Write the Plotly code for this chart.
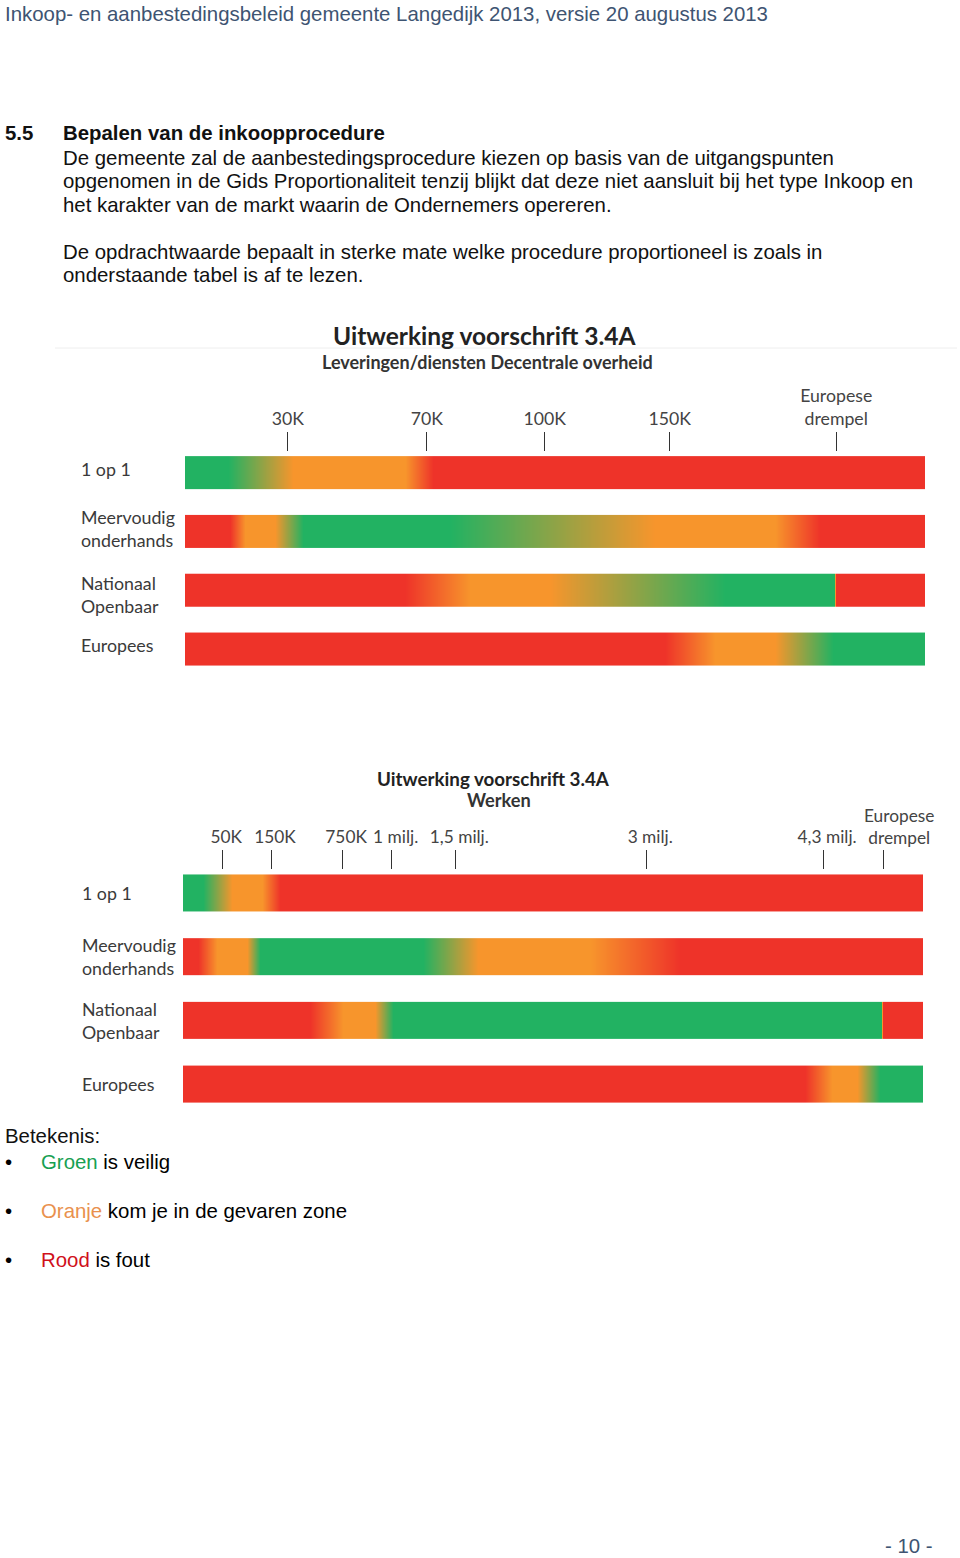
import plotly.graph_objects as go

W, H = 960, 1558

# ---------------- text content ----------------
header = "Inkoop- en aanbestedingsbeleid gemeente Langedijk 2013, versie 20 augustus 2013"
section_no = "5.5"
section_title = "Bepalen van de inkoopprocedure"
para1 = [
    "De gemeente zal de aanbestedingsprocedure kiezen op basis van de uitgangspunten",
    "opgenomen in de Gids Proportionaliteit tenzij blijkt dat deze niet aansluit bij het type Inkoop en",
    "het karakter van de markt waarin de Ondernemers opereren.",
]
para2 = [
    "De opdrachtwaarde bepaalt in sterke mate welke procedure proportioneel is zoals in",
    "onderstaande tabel is af te lezen.",
]
legend_title = "Betekenis:"
legend_words = ["Groen", "Oranje", "Rood"]
legend_rest = ["is veilig", "kom je in de gevaren zone", "is fout"]
page_no = "- 10 -"

procedures = ["1 op 1", "Meervoudig<br>onderhands", "Nationaal<br>Openbaar", "Europees"]

# ---------------- chart 1: Leveringen/diensten ----------------
c1_title = "Uitwerking voorschrift 3.4A"
c1_sub = "Leveringen/diensten Decentrale overheid"
c1_tick_pos = [13.9, 32.7, 48.6, 65.5, 88.0]
c1_tick_text = ["30K", "70K", "100K", "150K", "Europese<br>drempel"]
# colour stops along each bar (0-100 = bar length); R=rood, O=oranje, G=groen
c1_pos = [
    [0, 5.8, 14.6, 29.7, 33.5, 100],
    [0, 6.1, 8.1, 12.2, 15.9, 35.8, 63.5, 79.7, 85.8, 100],
    [0, 29.7, 38.5, 49.3, 73.0, 87.7, 88.0, 100],
    [0, 64.9, 71.6, 79.7, 87.6, 100],
]
c1_state = [
    ["G", "G", "O", "O", "R", "R"],
    ["R", "R", "O", "O", "G", "G", "O", "O", "R", "R"],
    ["R", "R", "O", "O", "G", "G", "R", "R"],
    ["R", "R", "O", "O", "G", "G"],
]

# ---------------- chart 2: Werken ----------------
c2_title = "Uitwerking voorschrift 3.4A"
c2_sub = "Werken"
c2_tick_pos = [5.3, 11.9, 21.5, 28.2, 36.8, 62.6, 86.5, 94.7]
c2_tick_text = ["50K", "150K", "750K", "1 milj.", "1,5 milj.", "3 milj.", "4,3 milj.",
                "Europese<br>drempel"]
c2_pos = [
    [0, 2.7, 6.6, 10.7, 13.1, 100],
    [0, 2.0, 4.6, 8.6, 10.4, 32.4, 39.9, 55.0, 67.2, 100],
    [0, 17.2, 21.6, 25.9, 28.4, 94.3, 94.6, 100],
    [0, 84.1, 87.7, 91.1, 94.2, 100],
]
c2_state = [
    ["G", "G", "O", "O", "R", "R"],
    ["R", "R", "O", "O", "G", "G", "O", "O", "R", "R"],
    ["R", "R", "O", "O", "G", "G", "R", "R"],
    ["R", "R", "O", "O", "G", "G"],
]

# ---------------- styling ----------------
RED, ORANGE, GREEN = "#EE3329", "#F7952C", "#22B262"
state_z = {"R": 0.0, "O": 0.5, "G": 1.0}
cscale = [[0, RED], [0.5, ORANGE], [1, GREEN]]
BODY_FONT = "Arial, Liberation Sans, sans-serif"
CHART_FONT = "Lato, Open Sans, sans-serif"
BODY_SIZE = 20.4
TICK_COLOR = "#444"


def py(px):
    return 1 - px / H


def px_x(px):
    return px / W


fig = go.Figure()


def add_bars(pos_list, state_list, xa, ya, half):
    for i, (pos, st) in enumerate(zip(pos_list, state_list)):
        zrow = [state_z[s] for s in st]
        fig.add_trace(go.Heatmap(
            x=pos, y=[i - half, i, i + half], z=[zrow, zrow],
            zsmooth="best", colorscale=cscale, zmin=0, zmax=1,
            showscale=False, hoverinfo="skip", xaxis=xa, yaxis=ya,
        ))


add_bars(c1_pos, c1_state, "x", "y", 0.28)
add_bars(c2_pos, c2_state, "x2", "y2", 0.29)

common_x = dict(range=[0, 100], side="top", ticks="outside", ticklen=19, tickwidth=1.3,
                tickcolor="#333", showgrid=False, zeroline=False, showline=False,
                tickangle=0, fixedrange=True)
common_y = dict(showgrid=False, zeroline=False, showticklabels=False, ticks="",
                showline=False, fixedrange=True)

# the last (threshold) label of chart 2 sits right of its tick: drawn as an annotation
c2_axis_text = c2_tick_text[:-1] + [""]

fig.update_layout(
    width=W, height=H, margin=dict(l=0, r=0, t=0, b=0), autosize=False,
    paper_bgcolor="white", plot_bgcolor="white", showlegend=False,
    xaxis=dict(common_x, domain=[px_x(185), px_x(925)], anchor="y",
               tickmode="array", tickvals=c1_tick_pos, ticktext=c1_tick_text,
               tickfont=dict(family=CHART_FONT, size=17.7, color=TICK_COLOR)),
    yaxis=dict(common_y, domain=[py(669.6), py(452)], range=[3.35, -0.35], anchor="x"),
    xaxis2=dict(common_x, domain=[px_x(183), px_x(923)], anchor="y2",
                tickmode="array", tickvals=c2_tick_pos, ticktext=c2_axis_text,
                ticklabelshift=4,
                tickfont=dict(family=CHART_FONT, size=17.3, color=TICK_COLOR)),
    yaxis2=dict(common_y, domain=[py(1107), py(870)], range=[3.36, -0.36], anchor="x2"),
)

ann = []


def text(x, y, t, size=BODY_SIZE, color="#111", family=BODY_FONT, xanchor="left",
         weight="normal", yref="paper", xref="paper", yshift=0):
    xs = {"left": -2, "right": 2, "center": 0}[xanchor]
    ann.append(dict(x=x, y=y, xref=xref, yref=yref, text=t, showarrow=False,
                    xanchor=xanchor, yanchor="middle", align="left", xshift=xs, yshift=yshift,
                    font=dict(family=family, size=size, color=color, weight=weight)))


# header
text(px_x(5), py(14), header, color="#3E5472")
# section heading
text(px_x(5), py(133), section_no, weight="bold")
text(px_x(63), py(133), section_title, weight="bold")
for k, line in enumerate(para1):
    text(px_x(63), py(158 + 23.5 * k), line)
for k, line in enumerate(para2):
    text(px_x(63), py(252 + 23.5 * k), line)

# chart titles
text(px_x(484), py(336), c1_title, size=24.5, color="#222", family=CHART_FONT, xanchor="center", weight="bold")
text(px_x(487), py(362), c1_sub, size=18, color="#333", family=CHART_FONT, xanchor="center", weight="bold")
text(px_x(493), py(778), c2_title, size=18.8, color="#222", family=CHART_FONT, xanchor="center", weight="bold")
text(px_x(499), py(800), c2_sub, size=18.2, color="#333", family=CHART_FONT, xanchor="center", weight="bold")

# threshold label for chart 2, tied to its tick position
ann.append(dict(x=c2_tick_pos[-1], xref="x2", y=py(826), yref="paper", text=c2_tick_text[-1],
                showarrow=False, xanchor="center", yanchor="middle", align="center", xshift=15,
                font=dict(family=CHART_FONT, size=17.3, color=TICK_COLOR)))

# row labels
c1_label_shift = [4, 3, -4, 4]
for i, lab in enumerate(procedures):
    text(px_x(81), i, lab, size=17.8, color="#3A3A3A", family=CHART_FONT, yref="y",
         yshift=c1_label_shift[i])
for i, lab in enumerate(procedures):
    text(px_x(82), i, lab, size=17.8, color="#3A3A3A", family=CHART_FONT, yref="y2")

# legend
text(px_x(5), py(1136), legend_title)
legend_colors = ["#17A052", "#E9914E", "#D0101B"]
for k, (w, r, c) in enumerate(zip(legend_words, legend_rest, legend_colors)):
    yy = py(1162 + 49 * k)
    text(px_x(5), yy, "\u2022", color="#000")
    text(px_x(41), yy, f'<span style="color:{c}">{w}</span> {r}', color="#000")

# page number
text(px_x(933), py(1546), page_no, color="#3E5472", xanchor="right")

fig.update_layout(annotations=ann)

# faint rule under first chart title
fig.add_shape(type="line", xref="paper", yref="paper", x0=px_x(55), x1=px_x(957),
              y0=py(348), y1=py(348), line=dict(color="#EEEEEE", width=1))

fig.write_html(
    "out.html",
    config={"displayModeBar": False, "responsive": False},
    post_script="document.body.style.margin='0';document.body.style.overflow='hidden';",
)
